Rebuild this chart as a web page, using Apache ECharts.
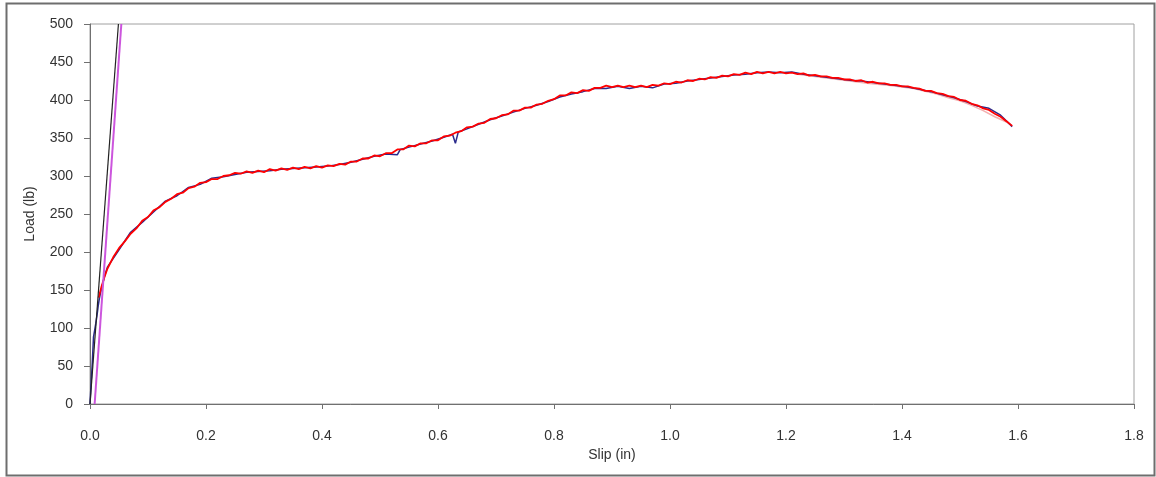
<!DOCTYPE html>
<html>
<head>
<meta charset="utf-8">
<script src="https://cdn.jsdelivr.net/npm/echarts@6/dist/echarts.min.js"></script>
<style>
html,body{margin:0;padding:0;background:#fff;}
#chart{width:1156px;height:477px;}
</style>
</head>
<body>
<div id="chart"></div>
<script>
// ---- data ----
var xTicks = [0.0, 0.2, 0.4, 0.6, 0.8, 1.0, 1.2, 1.4, 1.6, 1.8];
var yTicks = [0, 50, 100, 150, 200, 250, 300, 350, 400, 450, 500];

var earlySlip = [0, 0.002, 0.004, 0.006, 0.008, 0.010, 0.012, 0.014, 0.016, 0.018, 0.020, 0.025];
var earlyLoad = [0, 28, 55, 88, 97, 106, 116, 128, 138, 146, 152, 168];

var redSlip = [0.015,0.02,0.025,0.03,0.04,0.05,0.06,0.07,0.08,0.09,0.10,0.11,0.12,0.13,0.14,0.15,0.16,0.17,0.18,0.19,0.20,
0.21,0.22,0.23,0.24,0.25,0.26,0.27,0.28,0.29,0.30,0.31,0.32,0.33,0.34,0.35,0.36,0.37,0.38,0.39,0.40,
0.41,0.42,0.43,0.44,0.45,0.46,0.47,0.48,0.49,0.50,0.51,0.52,0.53,0.54,0.55,0.56,0.57,0.58,0.59,0.60,
0.61,0.62,0.63,0.64,0.65,0.66,0.67,0.68,0.69,0.70,0.71,0.72,0.73,0.74,0.75,0.76,0.77,0.78,0.79,0.80,
0.81,0.82,0.83,0.84,0.85,0.86,0.87,0.88,0.89,0.90,0.91,0.92,0.93,0.94,0.95,0.96,0.97,0.98,0.99,1.00,
1.01,1.02,1.03,1.04,1.05,1.06,1.07,1.08,1.09,1.10,1.11,1.12,1.13,1.14,1.15,1.16,1.17,1.18,1.19,1.20,
1.21,1.22,1.23,1.24,1.25,1.26,1.27,1.28,1.29,1.30,1.31,1.32,1.33,1.34,1.35,1.36,1.37,1.38,1.39,1.40,
1.41,1.42,1.43,1.44,1.45,1.46,1.47,1.48,1.49,1.50,1.51,1.52,1.53,1.54,1.55,1.56,1.57,1.58,1.59];
var redLoad = [140,155,167,178,193,205,214,224,231,241,246,255,259,266,270,276,278,284,286,291,292,
296,296,300,301,304,303,306,304,307,305,309,307,310,308,311,309,312,310,313,311,
314,313,316,315,319,319,323,323,327,326,330,330,335,335,340,339,343,343,347,347,
352,353,357,359,364,365,369,370,375,376,380,381,386,386,390,390,394,395,399,401,
406,406,410,409,413,412,416,416,419,417,419,417,419,417,419,417,420,419,422,421,
424,423,426,425,428,427,430,429,432,431,434,433,436,434,437,435,437,435,437,435,
436,434,435,432,433,431,431,429,429,427,427,425,426,423,424,422,422,420,420,418,
418,416,415,412,412,409,408,405,404,400,399,395,393,389,387,382,378,372,366];

var blueSlip = [0.03,0.05,0.07,0.09,0.11,0.13,0.15,0.17,0.19,0.21,0.23,0.25,0.27,0.29,0.31,0.33,0.35,0.37,0.39,
0.41,0.43,0.45,0.47,0.49,0.51,0.53,0.535,0.55,0.57,0.59,0.61,0.625,0.63,0.635,0.65,0.67,0.69,0.71,0.73,0.75,0.77,0.79,
0.81,0.83,0.85,0.87,0.89,0.91,0.93,0.95,0.97,0.99,1.01,1.03,1.05,1.07,1.09,1.11,1.13,1.15,1.17,1.19,
1.21,1.23,1.25,1.27,1.29,1.31,1.33,1.35,1.37,1.39,1.41,1.43,1.45,1.47,1.49,1.51,1.53,1.55,1.57,1.59];
var blueLoad = [180,203,226,239,253,267,274,285,289,297,299,302,305,306,307,309,310,311,312,
313,315,318,322,326,329,328,335,338,342,346,351,355,343,358,362,368,374,379,384,389,393,398,
404,408,411,415,415,418,415,418,416,421,422,425,427,429,431,433,434,436,437,436,
437,434,432,430,428,426,425,423,421,419,417,414,411,407,403,398,392,389,380,365];

var pinkSlip = [1.22,1.26,1.30,1.34,1.38,1.42,1.46,1.48,1.50,1.52,1.54,1.56,1.58];
var pinkLoad = [434,430,426,422,419,415,408,403,399,393,386,378,371];

var blackSlip = [0.0, 0.049];
var blackLoad = [0, 500];
var magentaSlip = [0.008, 0.054];
var magentaLoad = [0, 500];

function pairs(xs, ys){ return xs.map(function(x,i){ return [x, ys[i]]; }); }

var chart = echarts.init(document.getElementById('chart'));
var font = 'Liberation Sans, Arial, sans-serif';
chart.setOption({
  animation: false,
  backgroundColor: '#ffffff',
  graphic: [{
    type: 'rect', left: 4, top: 1, silent: true, z: 0,
    shape: {width: 1148, height: 472},
    style: {fill: 'none', stroke: '#6e6e6e', lineWidth: 2}
  }],
  grid: {left: 90, right: 22, top: 24, bottom: 73, show: true, borderColor: '#a0a0a0', borderWidth: 1, backgroundColor: '#ffffff'},
  xAxis: {
    type: 'value', min: 0, max: 1.8, interval: 0.2,
    name: 'Slip (in)', nameLocation: 'middle', nameGap: 44,
    nameTextStyle: {fontFamily: font, fontSize: 14, color: '#333'},
    axisLine: {show: true, onZero: false, lineStyle: {color: '#707070', width: 1}},
    axisTick: {show: true, inside: false, length: 5, lineStyle: {color: '#707070'}},
    axisLabel: {margin: 25, fontFamily: font, fontSize: 14, color: '#333',
      formatter: function(v){ return v.toFixed(1); }},
    splitLine: {show: false}
  },
  yAxis: {
    type: 'value', min: 0, max: 500, interval: 50,
    name: 'Load (lb)', nameLocation: 'middle', nameGap: 53,
    nameTextStyle: {fontFamily: font, fontSize: 14, color: '#333'},
    axisLine: {show: true, lineStyle: {color: '#707070', width: 1}},
    axisTick: {show: true, inside: false, length: 6, lineStyle: {color: '#707070'}},
    axisLabel: {margin: 17, fontFamily: font, fontSize: 14, color: '#333'},
    splitLine: {show: false}
  },
  series: [
    {type: 'line', name: 'pink', data: pairs(pinkSlip, pinkLoad), showSymbol: false,
     lineStyle: {color: '#f4b0b0', width: 1.5}, z: 2},
    {type: 'line', name: 'blue', data: pairs(earlySlip, earlyLoad).concat(pairs(blueSlip, blueLoad)), showSymbol: false,
     lineStyle: {color: '#2a2a8c', width: 1.5}, z: 3},
    {type: 'line', name: 'red', data: pairs(redSlip, redLoad), showSymbol: false,
     lineStyle: {color: '#ff0000', width: 1.8}, z: 4},
    {type: 'line', name: 'black', data: pairs(blackSlip, blackLoad), showSymbol: false,
     lineStyle: {color: '#222222', width: 1.2}, z: 5},
    {type: 'line', name: 'magenta', data: pairs(magentaSlip, magentaLoad), showSymbol: false,
     lineStyle: {color: '#cc55dd', width: 2}, z: 5}
  ]
});
</script>
</body>
</html>
